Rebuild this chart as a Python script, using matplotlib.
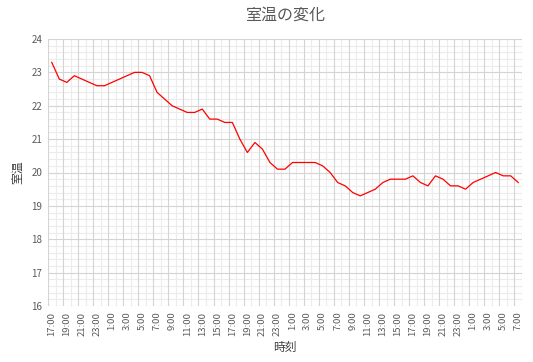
import matplotlib
matplotlib.use("Agg")
import matplotlib.pyplot as plt
import numpy as np

plt.rcParams['font.family'] = ['Noto Sans CJK JP', 'DejaVu Sans']

start_hour = 17
temps = [23.3, 22.8, 22.7, 22.9, 22.8, 22.7, 22.6, 22.6, 22.7, 22.8,
         22.9, 23.0, 23.0, 22.9, 22.4, 22.2, 22.0, 21.9, 21.8, 21.8,
         21.9, 21.6, 21.6, 21.5, 21.5, 21.0, 20.6, 20.9, 20.7, 20.3,
         20.1, 20.1, 20.3, 20.3, 20.3, 20.3, 20.2, 20.0, 19.7, 19.6,
         19.4, 19.3, 19.4, 19.5, 19.7, 19.8, 19.8, 19.8, 19.9, 19.7,
         19.6, 19.9, 19.8, 19.6, 19.6, 19.5, 19.7, 19.8, 19.9, 20.0,
         19.9, 19.9, 19.7]
hour_labels = [f"{(start_hour + i) % 24}:00" for i in range(len(temps))]
title = "室温の変化"
xlabel = "時刻"
ylabel = "室温"
y_min, y_max = 16, 24

gray = "#595959"
fig = plt.figure(figsize=(5.33, 3.62), dpi=100)
ax = fig.add_axes([48/533, 1-306/362, (522-48)/533, (306-39)/362])

x = np.arange(len(temps))
ax.plot(x, temps, color="#ff0000", lw=0.9, zorder=3)

ax.set_xlim(-0.5, len(temps) - 0.5)
ax.set_ylim(y_min, y_max)

ax.set_xticks(x[::2])
ax.set_xticklabels(hour_labels[::2], rotation=90, fontsize=6.8, color=gray)
ax.set_yticks(np.arange(y_min, y_max + 1, 1))
ax.set_yticklabels([str(v) for v in range(y_min, y_max + 1)], fontsize=7, color=gray)
ax.tick_params(axis='both', length=0, pad=4)

# grid lines drawn manually at category boundaries
bounds = np.arange(-0.5, len(temps), 1.0)
for i, b in enumerate(bounds):
    major = (i % 2 == 0) or i == len(bounds) - 1
    ax.axvline(b, color="#d4d4d4" if major else "#ececec", lw=0.8, zorder=1 if major else 0)
for v in np.arange(y_min, y_max + 0.001, 0.2):
    major = abs(v - round(v)) < 1e-6
    ax.axhline(v, color="#d4d4d4" if major else "#ececec", lw=0.8, zorder=1 if major else 0)

for s in ax.spines.values():
    s.set_visible(False)

ax.set_title(title, fontsize=11.5, color=gray, pad=14)
ax.set_xlabel(xlabel, fontsize=8.5, color="#404040", labelpad=4)
ax.set_ylabel(ylabel, fontsize=8.5, color="#404040", labelpad=5)

fig.savefig("out.png", dpi=100)
